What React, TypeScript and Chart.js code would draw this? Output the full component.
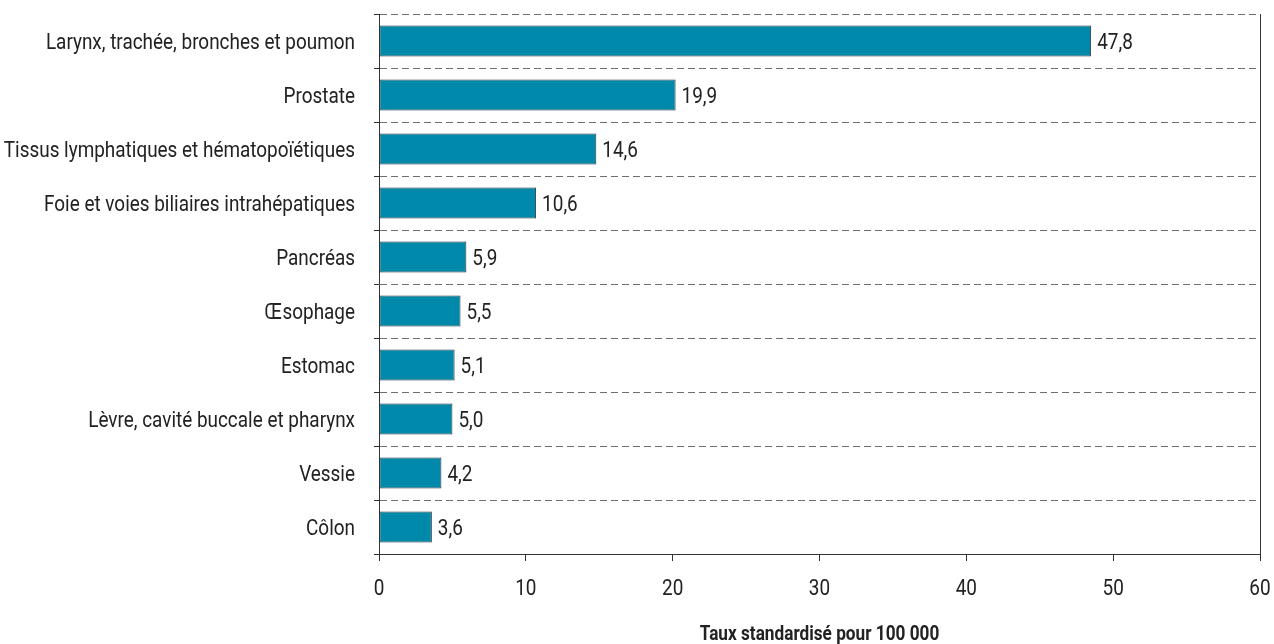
import React, { useEffect, useRef } from "react";
import { Chart, registerables } from "chart.js";

Chart.register(...registerables);

const FONT = "Roboto, 'Noto Sans', sans-serif";
const TEXT_SCALE_X = 0.86;

const categories = [
  "Larynx, trachée, bronches et poumon",
  "Prostate",
  "Tissus lymphatiques et hématopoïétiques",
  "Foie et voies biliaires intrahépatiques",
  "Pancréas",
  "Œsophage",
  "Estomac",
  "Lèvre, cavité buccale et pharynx",
  "Vessie",
  "Côlon",
];

// bar lengths as drawn in the picture
const barValues = [48.5, 20.2, 14.8, 10.7, 5.95, 5.55, 5.15, 5.0, 4.25, 3.6];

// value labels printed next to the bars
const valueLabels = ["47,8", "19,9", "14,6", "10,6", "5,9", "5,5", "5,1", "5,0", "4,2", "3,6"];

const xTicks = [0, 10, 20, 30, 40, 50, 60];
const axisTitle = "Taux standardisé pour 100 000";

function drawText(ctx: any, text: string, x: number, y: number, align: string) {
  ctx.save();
  ctx.translate(x, y);
  ctx.scale(TEXT_SCALE_X, 1);
  ctx.textAlign = align;
  ctx.textBaseline = "alphabetic";
  ctx.fillText(text, 0, 0);
  ctx.restore();
}

const textPlugin = {
  id: "narrowText",
  afterDraw(chart: any) {
    const ctx = chart.ctx;
    const xs = chart.scales.x;
    const ys = chart.scales.y;
    const area = chart.chartArea;
    ctx.save();
    ctx.fillStyle = "#222";
    ctx.font = `22px ${FONT}`;
    // category labels
    categories.forEach((c, i) => {
      drawText(ctx, c, area.left - 24, ys.getPixelForValue(i) + 8, "right");
    });
    // value labels
    const meta = chart.getDatasetMeta(0);
    meta.data.forEach((bar: any, i: number) => {
      drawText(ctx, valueLabels[i], bar.x + 6, bar.y + 8, "left");
    });
    // x tick labels
    xTicks.forEach((v) => {
      drawText(ctx, String(v), xs.getPixelForValue(v), area.bottom + 41, "center");
    });
    // axis title
    ctx.font = `bold 20px ${FONT}`;
    drawText(ctx, axisTitle, (area.left + area.right) / 2, area.bottom + 86, "center");
    ctx.restore();
  },
};

export default function App() {
  const ref = useRef<HTMLCanvasElement>(null);
  useEffect(() => {
    if (!ref.current) return;
    const chart = new Chart(ref.current, {
      type: "bar",
      data: {
        labels: categories,
        datasets: [
          {
            data: barValues,
            backgroundColor: "#0089AA",
            borderColor: "#263338",
            borderWidth: 1,
            borderSkipped: false,
            categoryPercentage: 1,
            barPercentage: 0.575,
          },
        ],
      },
      options: {
        indexAxis: "y",
        animation: false,
        responsive: true,
        maintainAspectRatio: false,
        layout: { padding: { top: 14, right: 14, left: 0, bottom: 0 } },
        plugins: { legend: { display: false }, tooltip: { enabled: false } },
        scales: {
          x: {
            type: "linear",
            min: xTicks[0],
            max: xTicks[xTicks.length - 1],
            afterBuildTicks: (scale: any) => {
              scale.ticks = xTicks.map((v) => ({ value: v }));
            },
            afterFit: (scale: any) => {
              scale.height = 90;
            },
            ticks: { display: false },
            grid: {
              color: (c: any) => (c.tick && c.tick.value === 60 ? "#333" : "rgba(0,0,0,0)"),
              tickColor: "#333",
              tickLength: 7,
              lineWidth: 1,
            },
            border: { display: true, color: "#333", width: 1 },
          },
          y: {
            afterFit: (scale: any) => {
              scale.width = 379;
            },
            ticks: { display: false, autoSkip: false },
            grid: {
              offset: true,
              color: "#6f6f6f",
              tickColor: "#333",
              tickLength: 5,
              lineWidth: 1,
            },
            border: { display: true, color: "#333", width: 1, dash: [7, 4] },
          },
        },
      },
      plugins: [textPlugin],
    });
    return () => chart.destroy();
  }, []);
  return (
    <div style={{ position: "fixed", left: 0, top: 0, width: 1274, height: 644, background: "#fff" }}>
      <canvas ref={ref} />
    </div>
  );
}
